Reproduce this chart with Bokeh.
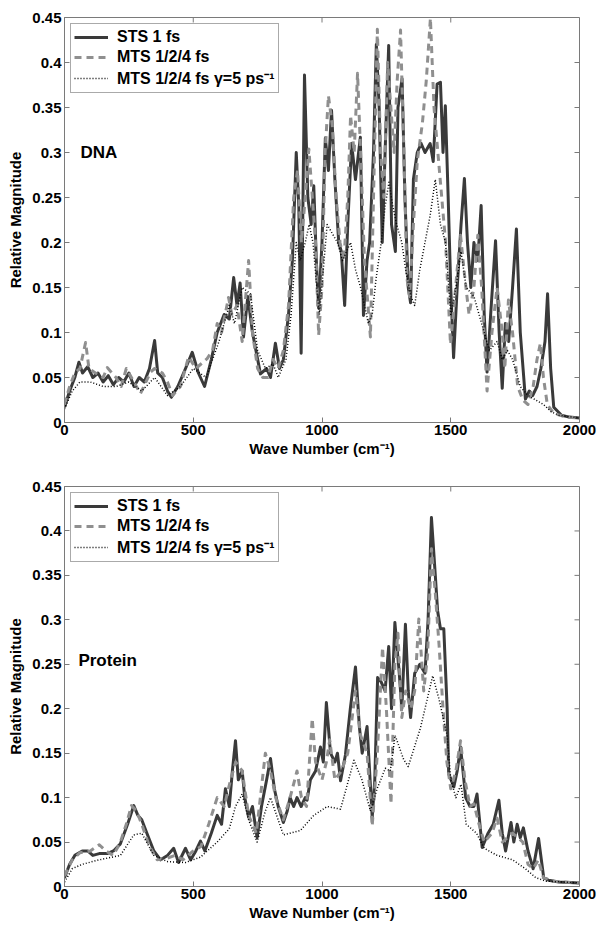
import math

from bokeh.plotting import figure
from bokeh.layouts import column
from bokeh.models import (FixedTicker, NumeralTickFormatter, Legend, LegendItem, Range1d,
                          Label)
from bokeh.embed import file_html
from bokeh.resources import INLINE

# ---------------- DNA spectra ----------------
dna_sts_wn = [0, 20, 40, 56, 70, 90, 110, 130, 150, 170, 190, 210, 230, 250, 270, 290, 310, 330,
              350, 362, 380, 400, 415, 440, 470, 496, 520, 544, 570, 593, 620, 640, 657, 670,
              682, 695, 712, 730, 761, 785, 800, 819, 835, 850, 870, 885, 900, 910, 919, 932,
              945, 958, 968, 978, 987, 1000, 1013, 1025, 1037, 1050, 1065, 1075, 1088, 1100,
              1115, 1130, 1149, 1161, 1175, 1185, 1200, 1211, 1222, 1234, 1245, 1259, 1270,
              1285, 1295, 1311, 1322, 1335, 1344, 1355, 1370, 1385, 1400, 1420, 1432, 1447,
              1460, 1470, 1479, 1490, 1500, 1511, 1525, 1540, 1553, 1565, 1578, 1590, 1605,
              1618, 1630, 1641, 1655, 1674, 1688, 1700, 1712, 1725, 1740, 1755, 1770, 1790,
              1805, 1818, 1835, 1850, 1866, 1876, 1888, 1900, 1930, 1960, 2000]
dna_sts = [0.017, 0.035, 0.05, 0.067, 0.055, 0.062, 0.05, 0.055, 0.045, 0.052, 0.042, 0.05,
           0.045, 0.055, 0.04, 0.05, 0.045, 0.06, 0.091, 0.055, 0.05, 0.035, 0.028, 0.04, 0.06,
           0.078, 0.055, 0.04, 0.07, 0.1, 0.12, 0.115, 0.161, 0.13, 0.155, 0.095, 0.14, 0.1,
           0.054, 0.06, 0.05, 0.088, 0.06, 0.07, 0.12, 0.18, 0.3, 0.24, 0.077, 0.386, 0.25,
           0.22, 0.263, 0.18, 0.127, 0.2, 0.316, 0.28, 0.347, 0.27, 0.2, 0.19, 0.13, 0.22,
           0.31, 0.27, 0.317, 0.119, 0.18, 0.2, 0.3, 0.42, 0.35, 0.2, 0.3, 0.419, 0.22, 0.19,
           0.35, 0.382, 0.25, 0.15, 0.133, 0.27, 0.3, 0.31, 0.3, 0.31, 0.29, 0.376, 0.378, 0.3,
           0.352, 0.25, 0.15, 0.072, 0.15, 0.22, 0.271, 0.2, 0.15, 0.2, 0.18, 0.241, 0.12,
           0.056, 0.12, 0.202, 0.1, 0.038, 0.11, 0.09, 0.15, 0.215, 0.1, 0.026, 0.035, 0.03,
           0.04, 0.06, 0.09, 0.143, 0.06, 0.017, 0.008, 0.006, 0.005]

dna_mts_wn = [0, 20, 40, 60, 82, 95, 120, 150, 166, 200, 220, 240, 260, 295, 334, 350, 380,
              400, 420, 450, 482, 510, 530, 554, 575, 593, 610, 637, 650, 670, 690, 715, 730,
              750, 770, 790, 810, 830, 850, 870, 890, 905, 920, 935, 949, 960, 975, 987, 1000,
              1012, 1025, 1040, 1055, 1070, 1085, 1100, 1111, 1125, 1138, 1150, 1165, 1188,
              1200, 1215, 1228, 1240, 1255, 1265, 1280, 1292, 1305, 1318, 1330, 1340, 1355,
              1370, 1390, 1405, 1421, 1435, 1450, 1465, 1480, 1499, 1510, 1525, 1538, 1555,
              1571, 1590, 1605, 1620, 1641, 1660, 1680, 1700, 1710, 1724, 1740, 1760, 1780,
              1800, 1820, 1835, 1848, 1860, 1875, 1900, 1950, 2000]
dna_mts = [0.02, 0.04, 0.055, 0.06, 0.089, 0.06, 0.055, 0.05, 0.061, 0.05, 0.04, 0.06, 0.05,
           0.032, 0.056, 0.06, 0.055, 0.045, 0.03, 0.04, 0.073, 0.06, 0.065, 0.071, 0.08, 0.11,
           0.1, 0.139, 0.12, 0.13, 0.09, 0.18, 0.1, 0.06, 0.05, 0.05, 0.07, 0.06, 0.08, 0.13,
           0.25, 0.28, 0.2, 0.25, 0.304, 0.26, 0.2, 0.097, 0.15, 0.3, 0.363, 0.33, 0.25, 0.2,
           0.18, 0.25, 0.341, 0.3, 0.388, 0.3, 0.18, 0.095, 0.25, 0.437, 0.3, 0.25, 0.4, 0.36,
           0.3, 0.38, 0.436, 0.3, 0.16, 0.14, 0.22, 0.29, 0.333, 0.38, 0.449, 0.35, 0.3, 0.25,
           0.2, 0.087, 0.12, 0.17, 0.208, 0.16, 0.12, 0.15, 0.208, 0.15, 0.035, 0.1, 0.15, 0.1,
           0.06, 0.136, 0.1, 0.04, 0.025, 0.02, 0.04, 0.07, 0.088, 0.05, 0.02, 0.01, 0.006,
           0.005]

dna_damp_wn = [0, 30, 60, 100, 150, 200, 250, 300, 350, 400, 450, 500, 550, 600, 640, 660,
               690, 722, 750, 780, 810, 830, 860, 880, 900, 915, 935, 950, 965, 980, 990, 1005,
               1020, 1040, 1060, 1080, 1095, 1111, 1130, 1150, 1165, 1180, 1195, 1210, 1230,
               1245, 1260, 1275, 1290, 1310, 1325, 1345, 1360, 1380, 1400, 1420, 1440, 1460,
               1480, 1500, 1520, 1540, 1560, 1590, 1610, 1630, 1650, 1680, 1700, 1720, 1740,
               1770, 1800, 1830, 1860, 1890, 1920, 2000]
dna_damp = [0.015, 0.035, 0.045, 0.045, 0.04, 0.04, 0.045, 0.035, 0.05, 0.03, 0.04, 0.06, 0.05,
            0.09, 0.13, 0.11, 0.15, 0.143, 0.08, 0.06, 0.065, 0.05, 0.07, 0.12, 0.2, 0.18, 0.2,
            0.22, 0.2, 0.15, 0.12, 0.17, 0.22, 0.21, 0.2, 0.18, 0.19, 0.2, 0.17, 0.15, 0.13,
            0.11, 0.12, 0.16, 0.2, 0.24, 0.267, 0.24, 0.22, 0.2, 0.17, 0.14, 0.13, 0.17, 0.2,
            0.23, 0.27, 0.22, 0.2, 0.12, 0.15, 0.19, 0.15, 0.14, 0.12, 0.1, 0.08, 0.09, 0.07,
            0.08, 0.07, 0.04, 0.03, 0.025, 0.02, 0.012, 0.008, 0.005]

# ---------------- Protein spectra ----------------
prot_sts_wn = [0, 20, 40, 69, 90, 110, 135, 166, 190, 217, 245, 269, 285, 300, 320, 347, 373,
               400, 424, 443, 470, 490, 510, 528, 545, 570, 593, 610, 625, 640, 652, 664, 675,
               690, 700, 715, 730, 748, 765, 785, 800, 815, 830, 850, 865, 876, 890, 903, 919,
               935, 942, 955, 975, 994, 1005, 1017, 1033, 1050, 1060, 1072, 1091, 1110, 1130,
               1145, 1156, 1175, 1195, 1205, 1216, 1230, 1245, 1259, 1270, 1283, 1300, 1310,
               1324, 1335, 1344, 1360, 1380, 1400, 1412, 1425, 1440, 1449, 1460, 1473, 1486,
               1492, 1512, 1525, 1538, 1558, 1575, 1590, 1602, 1622, 1645, 1665, 1687, 1700,
               1713, 1734, 1745, 1758, 1770, 1782, 1800, 1820, 1841, 1861, 1880, 1920, 2000]
prot_sts = [0.01, 0.025, 0.035, 0.04, 0.04, 0.035, 0.037, 0.037, 0.04, 0.048, 0.07, 0.091,
            0.08, 0.075, 0.06, 0.04, 0.03, 0.035, 0.043, 0.027, 0.043, 0.03, 0.04, 0.051, 0.04,
            0.06, 0.08, 0.07, 0.11, 0.09, 0.13, 0.164, 0.12, 0.13, 0.1, 0.078, 0.09, 0.055,
            0.09, 0.12, 0.144, 0.11, 0.09, 0.072, 0.085, 0.1, 0.09, 0.1, 0.09, 0.1, 0.097,
            0.12, 0.13, 0.157, 0.14, 0.207, 0.15, 0.14, 0.15, 0.119, 0.148, 0.2, 0.247, 0.18,
            0.15, 0.18, 0.078, 0.12, 0.235, 0.23, 0.22, 0.27, 0.2, 0.297, 0.24, 0.2, 0.295,
            0.22, 0.19, 0.24, 0.25, 0.24, 0.3, 0.415, 0.35, 0.31, 0.29, 0.29, 0.2, 0.127,
            0.112, 0.13, 0.157, 0.1, 0.09, 0.09, 0.104, 0.044, 0.06, 0.07, 0.097, 0.06, 0.04,
            0.072, 0.05, 0.07, 0.055, 0.066, 0.04, 0.02, 0.054, 0.01, 0.007, 0.005, 0.004]

prot_mts_wn = [0, 30, 60, 100, 135, 160, 190, 217, 240, 260, 280, 300, 330, 360, 400, 430,
               460, 500, 530, 560, 593, 620, 645, 665, 690, 715, 745, 780, 800, 820, 850, 876,
               903, 920, 940, 962, 975, 1000, 1017, 1030, 1050, 1075, 1100, 1130, 1150, 1175,
               1195, 1215, 1235, 1250, 1268, 1283, 1295, 1310, 1325, 1345, 1360, 1376, 1395,
               1410, 1425, 1440, 1455, 1470, 1485, 1500, 1520, 1538, 1555, 1575, 1590, 1610,
               1630, 1660, 1680, 1700, 1720, 1740, 1760, 1780, 1800, 1820, 1840, 1860, 1900,
               2000]
prot_mts = [0.012, 0.03, 0.038, 0.04, 0.047, 0.04, 0.035, 0.05, 0.07, 0.091, 0.085, 0.07,
            0.045, 0.03, 0.032, 0.035, 0.03, 0.04, 0.045, 0.07, 0.1, 0.09, 0.12, 0.14, 0.13,
            0.08, 0.06, 0.15, 0.13, 0.1, 0.075, 0.1, 0.13, 0.1, 0.09, 0.189, 0.14, 0.12, 0.14,
            0.165, 0.12, 0.13, 0.15, 0.22, 0.17, 0.15, 0.068, 0.15, 0.269, 0.2, 0.093, 0.25,
            0.285, 0.19, 0.22, 0.2, 0.22, 0.301, 0.22, 0.26, 0.38, 0.33, 0.27, 0.2, 0.14, 0.11,
            0.13, 0.164, 0.12, 0.09, 0.093, 0.07, 0.05, 0.06, 0.077, 0.05, 0.055, 0.06, 0.055,
            0.05, 0.025, 0.02, 0.03, 0.01, 0.006, 0.004]

prot_damp_wn = [0, 30, 69, 135, 217, 269, 300, 347, 400, 470, 528, 593, 640, 664, 690, 715,
                748, 780, 800, 850, 876, 916, 968, 1020, 1072, 1124, 1155, 1188, 1214, 1246,
                1265, 1284, 1317, 1335, 1382, 1430, 1455, 1486, 1500, 1520, 1540, 1560, 1600,
                1630, 1680, 1740, 1790, 1830, 1870, 2000]
prot_damp = [0.005, 0.02, 0.025, 0.03, 0.035, 0.058, 0.06, 0.035, 0.028, 0.027, 0.033, 0.05,
             0.065, 0.09, 0.104, 0.075, 0.05, 0.085, 0.1, 0.058, 0.06, 0.063, 0.08, 0.09, 0.087,
             0.142, 0.12, 0.085, 0.11, 0.133, 0.13, 0.17, 0.143, 0.135, 0.178, 0.237, 0.21,
             0.17, 0.12, 0.1, 0.115, 0.07, 0.06, 0.043, 0.035, 0.03, 0.02, 0.01, 0.006, 0.004]

y_ticks = [0, 0.05, 0.1, 0.15, 0.2, 0.25, 0.3, 0.35, 0.4, 0.45]
x_ticks = [0, 500, 1000, 1500, 2000]
legend_labels = ["STS 1 fs", "MTS 1/2/4 fs", "MTS 1/2/4 fs \u03b3=5 ps\u207b\u00b9"]

X_MAX = 2000
Y_MAX = 0.45
FONT = "Liberation Sans"
FRAME = "#7a7a7a"


def make_panel(title, series, height, top, bottom):
    p = figure(width=597, height=height, output_backend="svg", toolbar_location=None,
               x_range=Range1d(0, X_MAX), y_range=Range1d(0, Y_MAX),
               min_border_left=64, min_border_right=18, min_border_top=top,
               min_border_bottom=bottom)
    p.grid.visible = False
    p.outline_line_color = FRAME
    p.outline_line_width = 1
    p.background_fill_color = "white"
    p.border_fill_color = "white"

    styles = [
        dict(line_color="#3a3a3a", line_width=3.0, line_dash="solid"),
        dict(line_color="#8f8f8f", line_width=3.0, line_dash="7 5"),
        dict(line_color="#000000", line_width=1.5, line_dash="1 2"),
    ]
    renderers = []
    for (wn, vals), st in zip(series, styles):
        renderers.append(p.line(wn, vals, line_join="round", **st))

    for ax in (p.xaxis[0], p.yaxis[0]):
        ax.axis_line_color = FRAME
        ax.major_tick_line_color = FRAME
        ax.major_tick_in = 5
        ax.major_tick_out = 0
        ax.minor_tick_line_color = None
        ax.major_label_text_font = FONT
        ax.major_label_text_font_style = "bold"
        ax.major_label_text_font_size = "15px"
        ax.major_label_text_color = "black"
        ax.axis_label_text_font = FONT
        ax.axis_label_text_font_style = "bold"
        ax.axis_label_text_font_size = "15px"
        ax.axis_label_text_color = "black"

    p.xaxis[0].ticker = FixedTicker(ticks=x_ticks)
    p.yaxis[0].ticker = FixedTicker(ticks=y_ticks)
    p.yaxis[0].formatter = NumeralTickFormatter(format="0.[00]")
    p.xaxis[0].axis_label = "Wave Number (cm\u207b\u00b9)"
    p.yaxis[0].axis_label = "Relative Magnitude"
    p.xaxis[0].major_label_standoff = 2
    p.yaxis[0].major_label_standoff = 3
    p.xaxis[0].axis_label_standoff = 2
    p.yaxis[0].axis_label_standoff = 5

    # inward tick marks on the top and right sides of the box
    p.ray(x=x_ticks, y=[Y_MAX] * len(x_ticks), length=5, length_units="screen",
          angle=-math.pi / 2, line_color=FRAME, line_width=1)
    p.ray(x=[X_MAX] * len(y_ticks), y=y_ticks, length=5, length_units="screen",
          angle=math.pi, line_color=FRAME, line_width=1)

    legend = Legend(items=[LegendItem(label=lab, renderers=[r])
                           for lab, r in zip(legend_labels, renderers)],
                    location="top_left")
    legend.label_text_font = FONT
    legend.label_text_font_style = "bold"
    legend.label_text_font_size = "16px"
    legend.label_text_color = "black"
    legend.border_line_color = "#555555"
    legend.border_line_width = 1
    legend.background_fill_alpha = 1
    legend.margin = 6
    legend.padding = 3
    legend.spacing = 0
    legend.label_height = 20
    legend.glyph_height = 20
    legend.glyph_width = 34
    legend.label_standoff = 9
    p.add_layout(legend)

    p.add_layout(Label(x=title[1], y=title[2], text=title[0], text_font=FONT,
                       text_font_style="bold", text_font_size="17px",
                       text_baseline="middle", text_color="black"))
    return p


p_dna = make_panel(("DNA", 62, 0.30),
                   [(dna_sts_wn, dna_sts), (dna_mts_wn, dna_mts), (dna_damp_wn, dna_damp)],
                   460, 17, 38)
p_prot = make_panel(("Protein", 54, 0.254),
                    [(prot_sts_wn, prot_sts), (prot_mts_wn, prot_mts),
                     (prot_damp_wn, prot_damp)],
                    470, 26, 44)

layout = column(p_dna, p_prot, spacing=0)
open("out.html", "w").write(file_html(layout, INLINE))
